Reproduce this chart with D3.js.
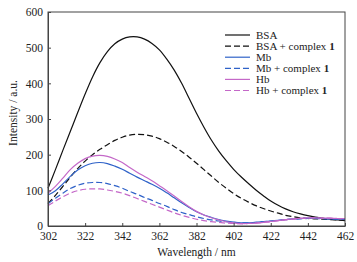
<!DOCTYPE html>
<html>
<head>
<meta charset="utf-8">
<script src="https://cdn.jsdelivr.net/npm/d3@7"></script>
<style>
  body { margin: 0; background: #fff; }
  text { font-family: "Liberation Serif", "Times New Roman", serif; fill: #222; }
</style>
</head>
<body>
<div id="chart"></div>
<script>
// wavelength grid (nm)
var wavelengths = [302, 306, 310, 314, 318, 322, 326, 330, 334, 338, 342, 346, 350, 354, 358, 362, 366, 370, 374, 378,
                   382, 386, 390, 394, 398, 402, 406, 410, 414, 418, 422, 426, 430, 434, 438, 442, 446, 450, 454, 458, 462];

var bsa        = [106, 158, 212, 265, 318, 370, 418, 458, 489, 511, 524, 530, 530, 524, 512, 494, 468, 437, 400, 358,
                  316, 277, 241, 210, 183, 159, 138, 119, 101, 85, 70, 58, 48, 40, 34, 29, 25, 22, 19, 17, 15];
var bsaComplex = [63, 86, 111, 137, 161, 182, 200, 215, 228, 240, 249, 255, 257, 256, 252, 245, 235, 223, 209, 193,
                  176, 158, 140, 122, 106, 91, 78, 67, 57, 49, 42, 36, 30, 26, 23, 21, 20, 19, 18, 17, 16];
var mb         = [87, 99, 118, 139, 157, 169, 176, 178, 175, 168, 159, 148, 137, 127, 117, 106, 93, 79, 65, 52,
                  40, 31, 24, 18, 14, 11, 9, 9, 10, 12, 14, 16, 18, 20, 21, 22, 22, 21, 20, 19, 19];
var mbComplex  = [62, 78, 92, 105, 114, 120, 122, 122, 119, 113, 106, 97, 89, 80, 72, 63, 55, 46, 38, 32,
                  26, 21, 17, 14, 12, 10, 9, 9, 10, 12, 14, 16, 18, 19, 20, 21, 21, 20, 20, 19, 19];
var hb         = [92, 111, 134, 158, 176, 189, 196, 198, 195, 188, 178, 164, 151, 139, 127, 113, 99, 84, 69, 54,
                  41, 31, 23, 17, 12, 9, 7, 7, 8, 10, 13, 15, 18, 20, 22, 23, 23, 22, 22, 21, 21];
var hbComplex  = [57, 70, 82, 92, 99, 103, 104, 104, 101, 97, 92, 85, 77, 69, 61, 53, 45, 37, 30, 24,
                  19, 15, 12, 10, 8, 7, 6, 7, 8, 10, 12, 15, 17, 19, 21, 22, 23, 22, 22, 21, 21];

var xTicks = [302, 322, 342, 362, 382, 402, 422, 442, 462];
var yTicks = [0, 100, 200, 300, 400, 500, 600];

var series = [
    { name: "BSA", bold: "", values: bsa, color: "#111", dash: null },
    { name: "BSA + complex ", bold: "1", values: bsaComplex, color: "#111", dash: "6,3" },
    { name: "Mb", bold: "", values: mb, color: "#2f62c8", dash: null },
    { name: "Mb + complex ", bold: "1", values: mbComplex, color: "#2f62c8", dash: "6,3" },
    { name: "Hb", bold: "", values: hb, color: "#c468c8", dash: null },
    { name: "Hb + complex ", bold: "1", values: hbComplex, color: "#c468c8", dash: "6,3" }
];

var margin = { top: 12, right: 12, bottom: 36, left: 48 },
    width = 357 - margin.left - margin.right,
    height = 262 - margin.top - margin.bottom;

var svg = d3.select("#chart")
    .append("svg")
    .attr("width", 357)
    .attr("height", 262)
    .append("g")
    .attr("transform", `translate(${margin.left},${margin.top})`);

var x = d3.scaleLinear().domain([302, 462]).range([0, width]);
var y = d3.scaleLinear().domain([0, 600]).range([height, 0]);

// curves
var line = d3.line()
    .x((d, i) => x(wavelengths[i]))
    .y(d => y(d))
    .curve(d3.curveCatmullRom.alpha(0.5));

svg.selectAll(".curve")
    .data(series)
    .enter()
    .append("path")
    .attr("class", "curve")
    .attr("d", d => line(d.values))
    .attr("fill", "none")
    .attr("stroke", d => d.color)
    .attr("stroke-width", 1.2)
    .attr("stroke-dasharray", d => d.dash);

// frame
svg.append("rect")
    .attr("width", width)
    .attr("height", height)
    .attr("fill", "none")
    .attr("stroke", "#444")
    .attr("stroke-width", 1);

// axes (ticks inside)
var xAxis = svg.append("g")
    .attr("transform", `translate(0,${height})`)
    .call(d3.axisBottom(x).tickValues(xTicks).tickSizeInner(-3).tickSizeOuter(0).tickPadding(6));
var yAxis = svg.append("g")
    .call(d3.axisLeft(y).tickValues(yTicks).tickSizeInner(-3).tickSizeOuter(0).tickPadding(5));

[xAxis, yAxis].forEach(function (g) {
    g.select(".domain").attr("stroke", "#444");
    g.selectAll(".tick line").attr("stroke", "#444");
    g.selectAll(".tick text")
        .style("font-family", "Liberation Serif, serif")
        .style("font-size", "11.5px")
        .attr("fill", "#222");
});

// axis titles
svg.append("text")
    .attr("x", width / 2)
    .attr("y", height + 30)
    .attr("text-anchor", "middle")
    .style("font-size", "11.5px")
    .text("Wavelength / nm");

svg.append("text")
    .attr("transform", "rotate(-90)")
    .attr("x", -(height / 2) + 6)
    .attr("y", -margin.left + 17)
    .attr("text-anchor", "middle")
    .style("font-size", "11.5px")
    .text("Intensity / a.u.");

// legend
var legend = svg.append("g")
    .attr("transform", `translate(${225 - margin.left},${35 - margin.top})`);

var rows = legend.selectAll(".row")
    .data(series)
    .enter()
    .append("g")
    .attr("transform", (d, i) => `translate(0,${i * 11.1})`);

rows.append("line")
    .attr("x1", 0).attr("x2", 25)
    .attr("y1", 0).attr("y2", 0)
    .attr("stroke", d => d.color)
    .attr("stroke-width", 1.2)
    .attr("stroke-dasharray", d => d.dash);

var labels = rows.append("text")
    .attr("x", 31)
    .attr("y", 3.8)
    .style("font-size", "11px");
labels.append("tspan").text(d => d.name);
labels.append("tspan").style("font-weight", "bold").text(d => d.bold);
</script>
</body>
</html>
